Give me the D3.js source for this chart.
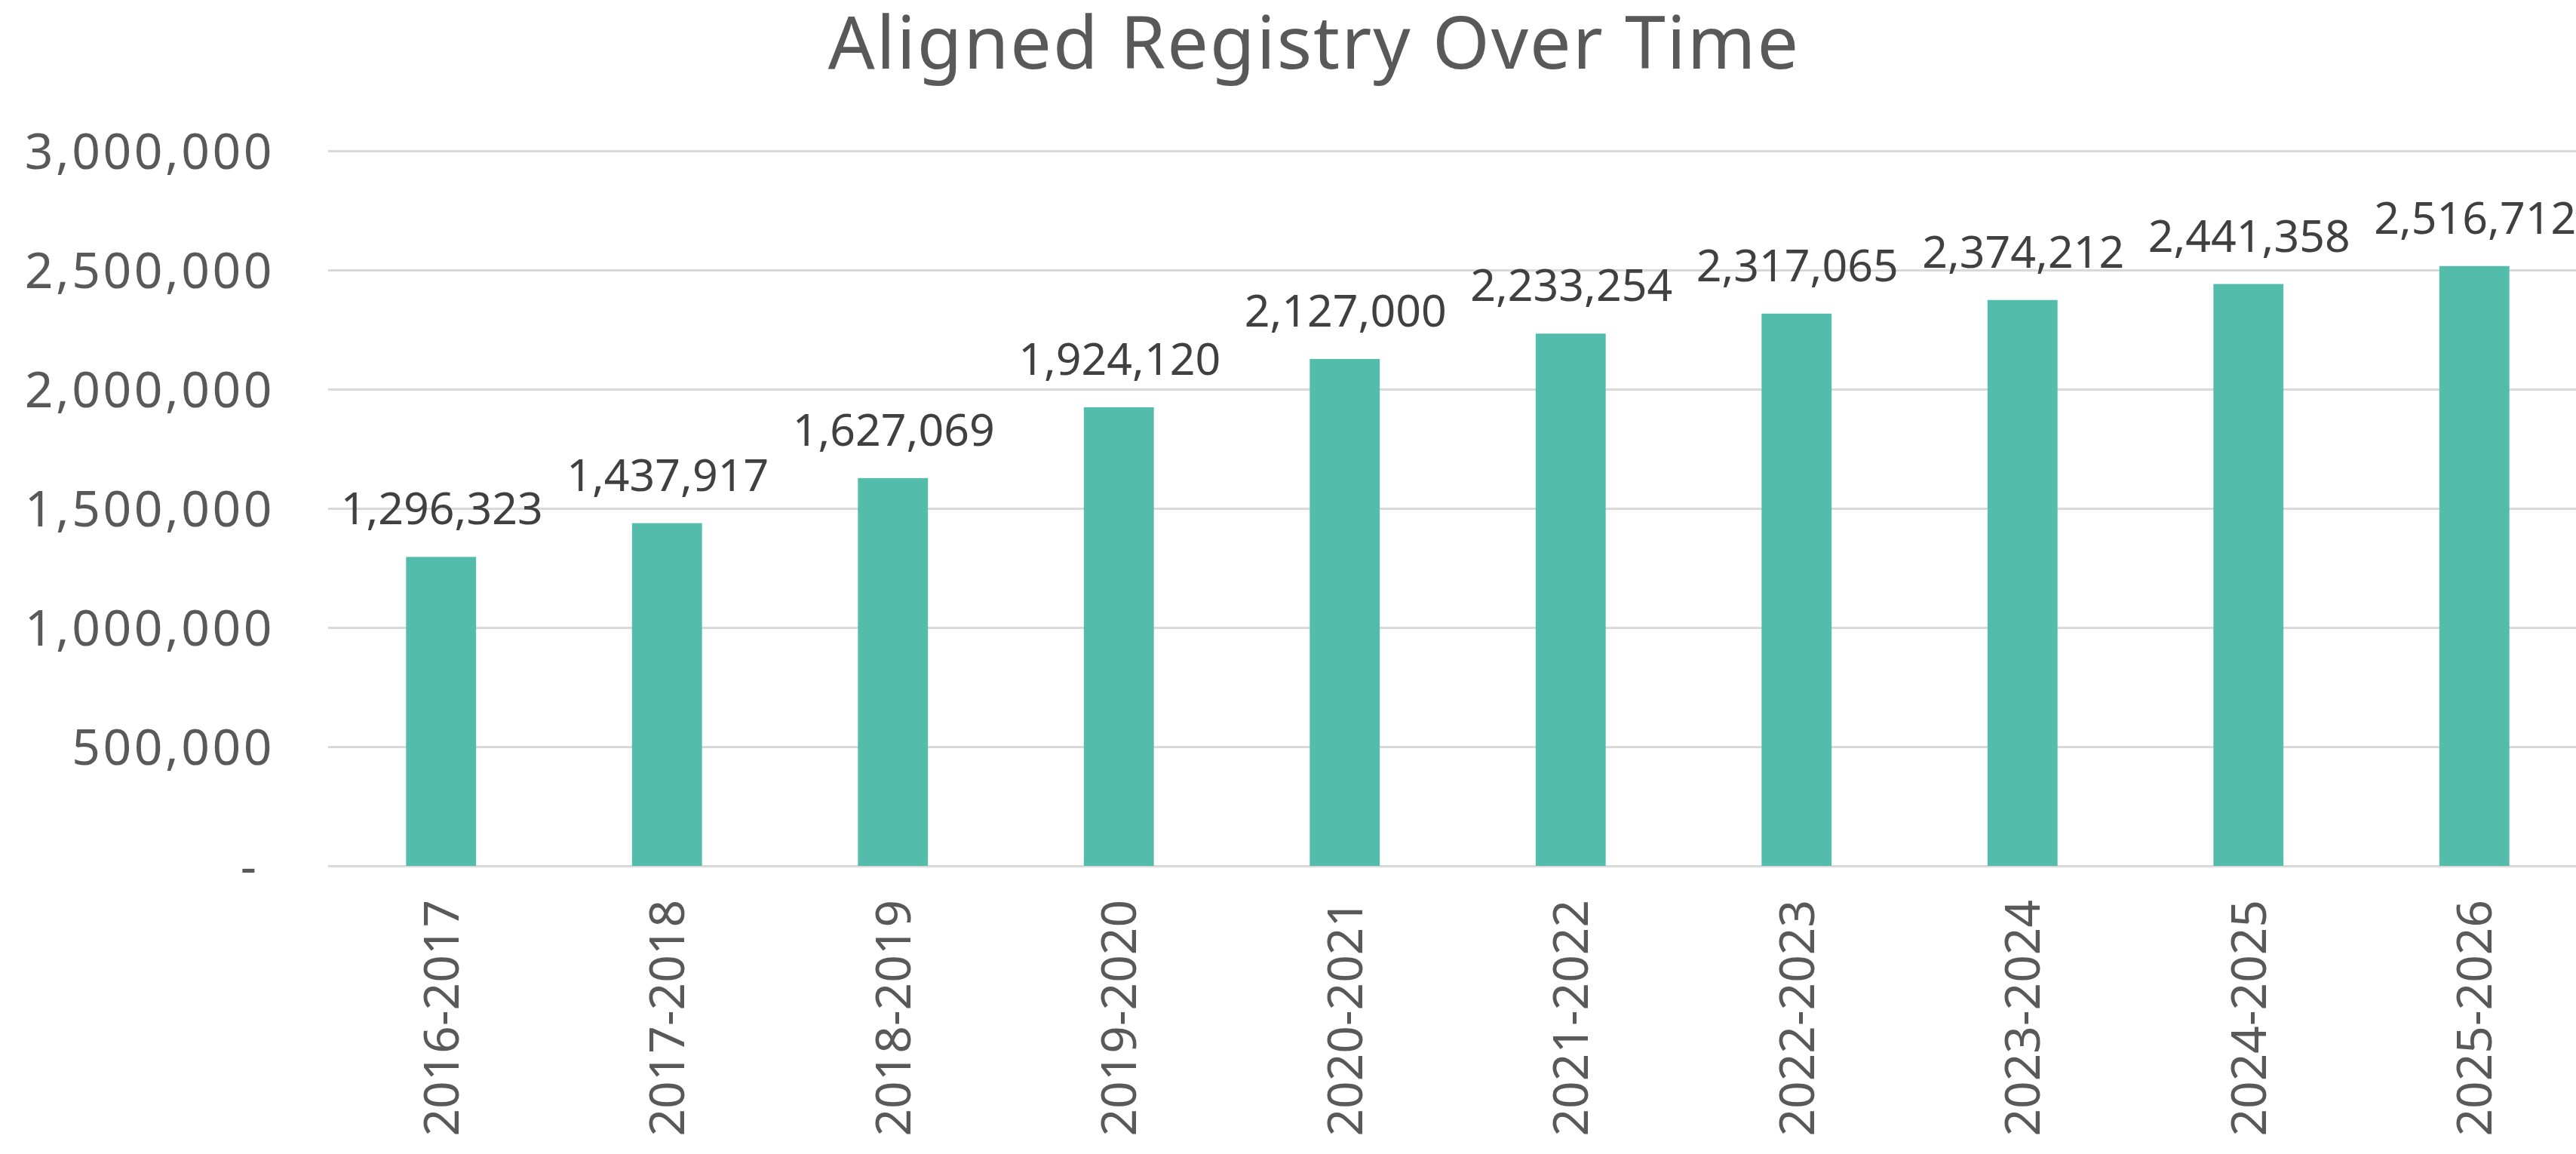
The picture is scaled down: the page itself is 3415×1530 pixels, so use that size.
<!DOCTYPE html>
<html>
<head>
<meta charset="utf-8">
<script src="https://cdn.jsdelivr.net/npm/d3@7"></script>
<style>
  body { margin: 0; background: #fff; }
  text { font-family: "Noto Sans", sans-serif; }
</style>
</head>
<body>
<div id="chart"></div>
<script>
// chart data
var years = ["2016-2017", "2017-2018", "2018-2019", "2019-2020", "2020-2021",
             "2021-2022", "2022-2023", "2023-2024", "2024-2025", "2025-2026"];
var registry = [1296323, 1437917, 1627069, 1924120, 2127000,
                2233254, 2317065, 2374212, 2441358, 2516712];
var yTicks = [0, 500000, 1000000, 1500000, 2000000, 2500000, 3000000];
var chartTitle = "Aligned Registry Over Time";

const width = 3415, height = 1530;
var margin = {top: 200, right: -15, bottom: 382, left: 435};
var plotW = width - margin.left - margin.right,
    plotH = height - margin.top - margin.bottom;

var svg = d3.select("#chart").append("svg")
    .attr("width", width)
    .attr("height", height);

svg.append("text")
    .attr("x", 1742)
    .attr("y", 91)
    .attr("text-anchor", "middle")
    .style("font-size", "97px")
    .style("letter-spacing", "2px")
    .style("fill", "#595959")
    .text(chartTitle);

var g = svg.append("g")
    .attr("transform", "translate(" + margin.left + "," + margin.top + ")");

var x = d3.scaleBand().domain(years).range([0, plotW]).paddingInner(0.69).paddingOuter(0.345);
var y = d3.scaleLinear().domain([0, 3000000]).range([plotH, 0]);

var fmt = d3.format(",");

// y axis + gridlines
var yAxis = g.append("g")
    .call(d3.axisLeft(y)
      .tickValues(yTicks)
      .tickSize(-plotW)
      .tickPadding(74)
      .tickFormat(function(d) { return d === 0 ? "-" : fmt(d); }));
yAxis.select(".domain").remove();
yAxis.selectAll(".tick line")
    .attr("stroke", "#d9d9d9")
    .attr("stroke-width", 3);
yAxis.selectAll(".tick text")
    .attr("dy", "0.36em")
    .style("font-size", "66px")
    .style("letter-spacing", function(d) { return d === 0 ? "0px" : "3.5px"; })
    .style("fill", "#595959")
    .attr("x", function(d) { return d === 0 ? -95 : -71; });

// bars
g.selectAll(".bar")
    .data(registry)
    .join("rect")
    .attr("class", "bar")
    .attr("x", function(d, i) { return x(years[i]); })
    .attr("width", x.bandwidth())
    .attr("y", function(d) { return y(d); })
    .attr("height", function(d) { return plotH - y(d); })
    .attr("fill", "#53bcab");

// data labels
g.selectAll(".lbl")
    .data(registry)
    .join("text")
    .attr("class", "lbl")
    .attr("x", function(d, i) { return x(years[i]) + x.bandwidth() / 2 + 1; })
    .attr("y", function(d) { return y(d) - 43; })
    .attr("text-anchor", "middle")
    .style("font-size", "59px")
    .style("fill", "#404040")
    .text(function(d) { return fmt(d); });

// x axis
var xAxis = g.append("g")
    .attr("transform", "translate(0," + plotH + ")")
    .call(d3.axisBottom(x).tickSize(0));
xAxis.select(".domain").remove();
xAxis.selectAll(".tick text")
    .attr("transform", "rotate(-90)")
    .attr("text-anchor", "end")
    .attr("x", -45)
    .attr("y", 0)
    .attr("dy", "0.36em")
    .style("font-size", "64px")
    .style("fill", "#595959");
</script>
</body>
</html>
